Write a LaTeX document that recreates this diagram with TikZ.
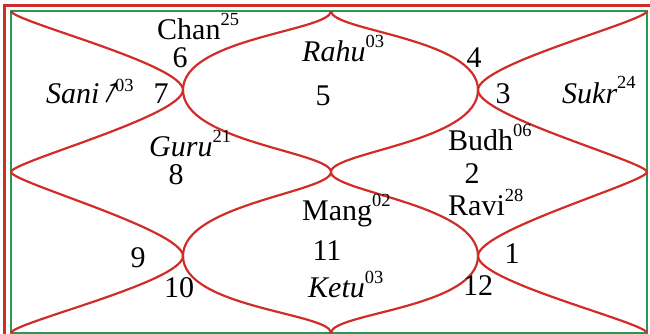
\documentclass[tikz,border=0pt]{standalone}
\usepackage{fontspec}
\setmainfont{Liberation Serif}
\definecolor{chartred}{RGB}{208,45,40}
\definecolor{chartgreen}{RGB}{40,152,82}
\newcommand\upnum[1]{\raisebox{14pt}{\upshape\fontsize{18.5}{18.5}\selectfont #1}}
\begin{document}
\begin{tikzpicture}[x=1pt,y=-1pt,
  curve/.style={draw=chartred,line width=2.2pt},
  lbl/.style={anchor=base west,inner sep=0pt,font=\fontsize{30}{36}\selectfont},
  num/.style={anchor=base,inner sep=0pt,font=\fontsize{30}{36}\selectfont}]
\useasboundingbox (0,0) rectangle (650,334);
\draw[chartred,line width=3pt] (4.5,400) -- (4.5,5.5) -- (700,5.5);
\draw[chartgreen,line width=2pt] (11,11) rectangle (647,333);
% key points
\coordinate (TL) at (11,11);
\coordinate (TM) at (331,11);
\coordinate (TR) at (647,11);
\coordinate (ML) at (11,172);
\coordinate (C)  at (331,172);
\coordinate (MR) at (647,172);
\coordinate (BL) at (11,333);
\coordinate (BM) at (331,333);
\coordinate (BR) at (647,333);
\coordinate (P7) at (183,90);
\coordinate (P3) at (478,90);
\coordinate (P9) at (183,256);
\coordinate (P1) at (478,256);
% side bulges
\draw[curve] (TL) .. controls +(0,10) and +(0,-26) .. (P7) .. controls +(0,26) and +(0,-10) .. (ML);
\draw[curve] (ML) .. controls +(0,10) and +(0,-26) .. (P9) .. controls +(0,26) and +(0,-10) .. (BL);
\draw[curve] (TR) .. controls +(0,10) and +(0,-26) .. (P3) .. controls +(0,26) and +(0,-10) .. (MR);
\draw[curve] (MR) .. controls +(0,10) and +(0,-26) .. (P1) .. controls +(0,26) and +(0,-10) .. (BR);
% middle leaves
\draw[curve] (TM) .. controls +(0,20) and +(0,-52) .. (P7) .. controls +(0,52) and +(0,-20) .. (C)
  .. controls +(0,-20) and +(0,52) .. (P3) .. controls +(0,-52) and +(0,20) .. (TM);
\draw[curve] (C) .. controls +(0,20) and +(0,-52) .. (P9) .. controls +(0,52) and +(0,-20) .. (BM)
  .. controls +(0,-20) and +(0,52) .. (P1) .. controls +(0,-52) and +(0,20) .. (C);
% labels
\node[lbl] (chan) at (157,40) {Chan\upnum{25}};
\node[num] (h6) at (180,68) {6};
\node[lbl] (rahu) at (302,62) {\itshape Rahu\upnum{03}};
\node[num] (h5) at (323,106) {5};
\node[num] (h4) at (474,68) {4};
\node[num] (h3) at (503,103) {3};
\node[lbl] (sukr) at (562,103) {\itshape Sukr\upnum{24}};
\node[lbl] (sani) at (46,104) {\itshape Sani};
\node[inner sep=0pt,rotate=62,font=\fontsize{38}{40}\selectfont] (arrow) at (113,93) {→};
\node[anchor=base west,inner sep=0pt,font=\fontsize{18.5}{18.5}\selectfont] (saniup) at (115,92) {03};
\node[num] (h7) at (161,104) {7};
\node[lbl] (guru) at (149,157) {\itshape Guru\upnum{21}};
\node[num] (h8) at (176,184) {8};
\node[lbl] (budh) at (448,150) {Budh\upnum{06}};
\node[num] (h2) at (472,183) {2};
\node[lbl] (ravi) at (448,215) {Ravi\upnum{28}};
\node[num] (h1) at (512,263) {1};
\node[num] (h12) at (478,295) {12};
\node[lbl] (mang) at (302,220) {Mang\upnum{02}};
\node[num] (h11) at (327,260) {11};
\node[lbl] (ketu) at (308,297) {\itshape Ketu\upnum{03}};
\node[num] (h9) at (138,267) {9};
\node[num] (h10) at (179,297) {10};
\end{tikzpicture}
\end{document}
